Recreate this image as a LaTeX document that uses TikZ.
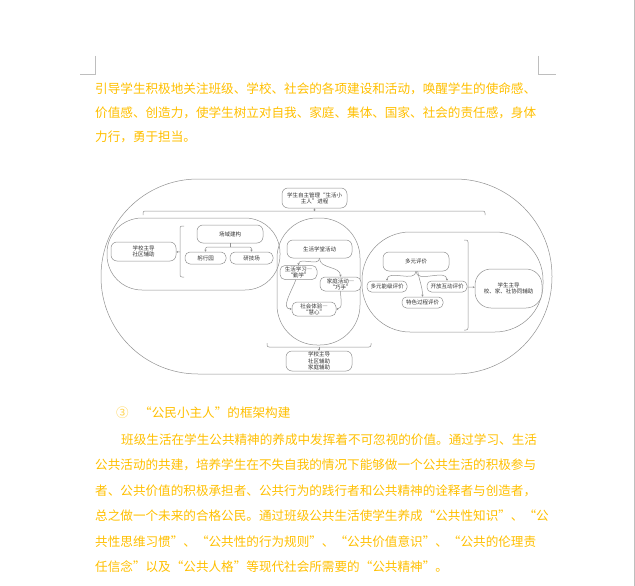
\documentclass[tikz,border=0pt]{standalone}
\usepackage{fontspec}
\setmainfont{Noto Sans CJK SC}[CharacterWidth=Full]
\usetikzlibrary{positioning,arrows.meta}
\definecolor{gold}{RGB}{255,192,0}
\definecolor{linegray}{RGB}{145,145,145}
\definecolor{markgray}{RGB}{190,190,190}
\definecolor{boxtext}{RGB}{50,50,50}
\XeTeXlinebreaklocale "zh"
\XeTeXlinebreakskip=0pt plus 2pt minus 1pt

\begin{document}
\begin{tikzpicture}[x=1pt,y=-1pt,
  body/.style={anchor=base west, inner sep=0pt, text=gold, font=\fontsize{12.6}{14}\selectfont},
  grp/.style={draw=linegray, line width=0.5pt},
  conn/.style={draw=linegray, line width=0.5pt},
  arr/.style={conn, -{Stealth[length=2pt,width=2pt]}},
  box/.style={draw=linegray, line width=0.5pt, fill=white, rounded corners=6pt, align=center, inner sep=0pt, text=boxtext, font=\fontsize{5.5}{6.2}\selectfont},
]
\useasboundingbox (0,0) rectangle (635,586);
\fill[white] (0,0) rectangle (635,586);

% page marks
\draw[markgray, line width=0.8pt] (95.5,56) -- (95.5,74) -- (80,74);
\draw[markgray, line width=0.8pt] (538,56) -- (538,74) -- (556,74);
\draw[markgray, line width=1pt] (634,0) -- (634,586);

% text above
\node[body] (l1) at (95,93) {\makebox[443pt][s]{引导学生积极地关注班级、学校、社会的各项建设和活动，唤醒学生的使命感、}};
\node[body] (l2) at (95,117.5) {\makebox[443pt][s]{价值感、创造力，使学生树立对自我、家庭、集体、国家、社会的责任感，身体}};
\node[body] (l3) at (95,142) {力行，勇于担当。};

% groups
\draw[grp, rounded corners=97pt] (101,179) rectangle (552,374);
\draw[grp, rounded corners=35pt] (107,218) rectangle (280,290);
\draw[grp, rounded corners=40pt] (277,218) rectangle (360,345);
\draw[grp, rounded corners=48pt] (362,232) rectangle (543,332);

% nodes
\node[box, minimum width=65pt, minimum height=20pt] (top) at (314.5,198) {学生自主管理“生活小\\主人”进程};
\node[box, minimum width=65pt, minimum height=19pt] (lead) at (143.5,251.5) {学校主导\\社区辅助};
\node[box, minimum width=66pt, minimum height=18pt] (field) at (230,234) {场域建构};
\node[box, minimum width=41pt, minimum height=12pt, rounded corners=5pt] (gongxing) at (205.5,258) {躬行园};
\node[box, minimum width=43pt, minimum height=12pt, rounded corners=5pt] (yanji) at (251.5,258) {研技场};
\node[box, minimum width=65pt, minimum height=18pt] (act) at (319.5,249) {生活学堂活动};
\node[box, minimum width=37pt, minimum height=14pt, rounded corners=5pt] (study) at (298.5,272.5) {生活学习—\\“勤学”};
\node[box, minimum width=41pt, minimum height=14pt, rounded corners=5pt] (home) at (340.5,284) {家庭活动—\\“巧手”};
\node[box, minimum width=44pt, minimum height=14pt, rounded corners=5pt] (social) at (314,309) {社会体验—\\“慧心”};
\node[box, minimum width=66pt, minimum height=20pt] (support) at (319,361) {学校主导\\社区辅助\\家庭辅助};
\node[box, minimum width=66pt, minimum height=19pt] (eval) at (416,261.5) {多元评价};
\node[box, minimum width=40pt, minimum height=11pt, rounded corners=4.5pt] (level) at (387,286.5) {多元能级评价};
\node[box, minimum width=40pt, minimum height=11pt, rounded corners=4.5pt] (open) at (447,286.5) {开放互动评价};
\node[box, minimum width=41pt, minimum height=11pt, rounded corners=4.5pt] (feature) at (422.5,302.5) {特色过程评价};
\node[box, minimum width=67pt, minimum height=39pt, rounded corners=16pt] (student) at (508.5,288.5) {学生主导\\校、家、社协同辅助};

% braces
\draw[conn, rounded corners=2pt] (143,215) -- (143,211) -- (485,211) -- (485,215);
\coordinate (topb) at (314.5,211);
\draw[arr] (topb) -- (top);
\draw[conn, rounded corners=2pt] (184,226) -- (180,226) -- (180,277) -- (184,277);
\coordinate (leftb) at (180,252);
\draw[arr] (leftb) -- (lead);
\coordinate (fieldb) at (230,247);
\draw[conn] (field) -- (fieldb);
\draw[arr, rounded corners=2pt] (fieldb) -| (gongxing);
\draw[arr, rounded corners=2pt] (fieldb) -| (yanji);
\draw[conn, rounded corners=2pt] (267,343) -- (267,347) -- (371,347) -- (371,343);
\coordinate (botb) at (319,347);
\draw[arr] (botb) -- (support);
\draw[conn, rounded corners=2pt] (464,240) -- (468,240) -- (468,330) -- (464,330);
\coordinate (rightb) at (468,287);
\draw[arr] (rightb) -- (student);

% arrows
\draw[arr] (act) to[out=-90,in=90] (study);
\draw[arr] (act) to[out=-90,in=90] (home);
\draw[arr] (study) to[out=-110,in=180] (social);
\draw[arr] (home) to[out=-90,in=0] (social);
\draw[arr] (eval) to[out=-90,in=90] (level);
\draw[arr] (eval) to[out=-90,in=90] (open);
\draw[arr] (eval) to[out=-80,in=90] (feature);

% text below
\node[body, text=gold!70] (num) at (116,417) {③};
\node[body] (head) at (139,417) {“公民小主人”的框架构建};
\node[body] (p1) at (121,444) {\makebox[419pt][s]{班级生活在学生公共精神的养成中发挥着不可忽视的价值。通过学习、生活}};
\node[body] (p2) at (95,469.5) {\makebox[443pt][s]{公共活动的共建，培养学生在不失自我的情况下能够做一个公共生活的积极参与}};
\node[body] (p3) at (95,495) {\makebox[443pt][s]{者、公共价值的积极承担者、公共行为的践行者和公共精神的诠释者与创造者，}};
\node[body] (p4) at (95,520.5) {\makebox[443pt][s]{总之做一个未来的合格公民。通过班级公共生活使学生养成“公共性知识”、“公}};
\node[body] (p5) at (95,546) {\makebox[443pt][s]{共性思维习惯”、“公共性的行为规则”、“公共价值意识”、“公共的伦理责}};
\node[body] (p6) at (95,571) {任信念”以及“公共人格”等现代社会所需要的“公共精神”。};
\end{tikzpicture}
\end{document}
